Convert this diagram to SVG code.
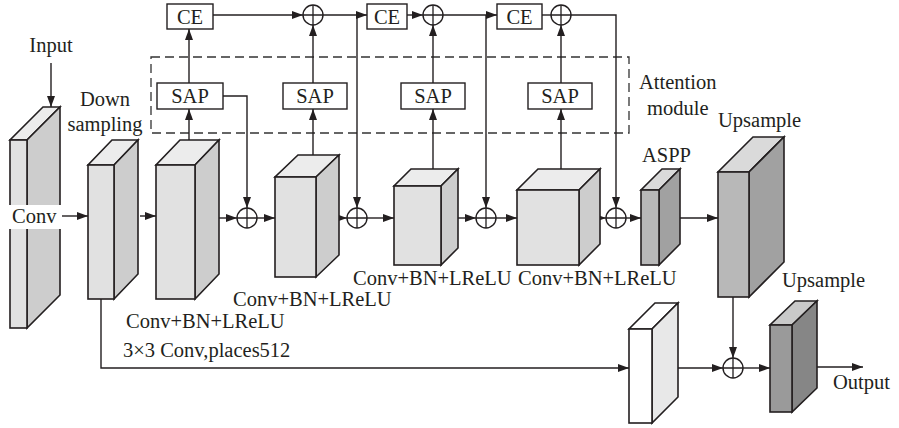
<svg xmlns="http://www.w3.org/2000/svg" width="899" height="428" viewBox="0 0 899 428">
  <defs>
    <marker id="arr" markerUnits="userSpaceOnUse" markerWidth="12" markerHeight="10" refX="11" refY="4" orient="auto">
      <path d="M0,0 L11,4 L0,8 Z" fill="#231f20"/>
    </marker>
    <g id="plus">
      <circle cx="0" cy="0" r="10" fill="#fff" stroke="#231f20" stroke-width="1.4"/>
      <path d="M-10,0 H10 M0,-10 V10" stroke="#231f20" stroke-width="1.3"/>
    </g>
  </defs>
  <style>
    text { font-family: "Liberation Serif", "Times New Roman", serif; font-size: 20.5px; fill: #231f20; }
    .edge { fill: none; stroke: #231f20; stroke-width: 1.4; }
    .box path, .box rect { stroke: #231f20; stroke-width: 1.6; stroke-linejoin: miter; }
    .box rect.knock { fill: #fff; stroke: none; }
    .lbl { fill: #fff; stroke: #231f20; stroke-width: 1.4; }
    .dash { fill: none; stroke: #333; stroke-width: 1.3; stroke-dasharray: 9 5; }
    .f1 { fill: #e1e1e1; } .t1 { fill: #ececec; } .s1 { fill: #cdcdcd; }
    .f2 { fill: #b8b8b8; } .t2 { fill: #dadada; } .s2 { fill: #a1a1a1; }
    .f3 { fill: #9a9a9a; } .t3 { fill: #c9c9c9; } .s3 { fill: #868686; }
    .f4 { fill: #ffffff; } .t4 { fill: #ffffff; } .s4 { fill: #e8e8e8; }
  </style>

  <rect width="899" height="428" fill="#fff"/>

  <!-- attention module frame -->
  <rect class="dash" x="151" y="57" width="478" height="76"/>

  <!-- connectors -->
  <g id="connectors">
    <path class="edge" d="M51,63 V107" marker-end="url(#arr)"/>
    <path class="edge" d="M62,216 H88" marker-end="url(#arr)"/>
    <path class="edge" d="M140,216 H156" marker-end="url(#arr)"/>
    <path class="edge" d="M219,218 H237" marker-end="url(#arr)"/>
    <path class="edge" d="M257,218 H275" marker-end="url(#arr)"/>
    <path class="edge" d="M325,218 H347" marker-end="url(#arr)"/>
    <path class="edge" d="M367,218 H394" marker-end="url(#arr)"/>
    <path class="edge" d="M451,218 H476" marker-end="url(#arr)"/>
    <path class="edge" d="M496,218 H517" marker-end="url(#arr)"/>
    <path class="edge" d="M591,218 H606" marker-end="url(#arr)"/>
    <path class="edge" d="M626,218 H641" marker-end="url(#arr)"/>
    <path class="edge" d="M675,218 H718" marker-end="url(#arr)"/>
    <path class="edge" d="M733,297 V358" marker-end="url(#arr)"/>
    <path class="edge" d="M101,299 V368 H629" marker-end="url(#arr)"/>
    <path class="edge" d="M678,368 H723" marker-end="url(#arr)"/>
    <path class="edge" d="M743,368 H770" marker-end="url(#arr)"/>
    <path class="edge" d="M815,367 H863" marker-end="url(#arr)"/>

    <!-- feature maps into SAP -->
    <path class="edge" d="M189,140 V109" marker-end="url(#arr)"/>
    <path class="edge" d="M313,155 V109" marker-end="url(#arr)"/>
    <path class="edge" d="M433,169 V109" marker-end="url(#arr)"/>
    <path class="edge" d="M561,169 V109" marker-end="url(#arr)"/>

    <!-- SAP outputs -->
    <path class="edge" d="M189,83 V29" marker-end="url(#arr)"/>
    <path class="edge" d="M313,83 V25" marker-end="url(#arr)"/>
    <path class="edge" d="M433,83 V25" marker-end="url(#arr)"/>
    <path class="edge" d="M561,83 V25" marker-end="url(#arr)"/>
    <path class="edge" d="M223,96 H247 V208" marker-end="url(#arr)"/>

    <!-- CE chain -->
    <path class="edge" d="M213,15 H303" marker-end="url(#arr)"/>
    <path class="edge" d="M323,15 H367" marker-end="url(#arr)"/>
    <path class="edge" d="M357,15 V208" marker-end="url(#arr)"/>
    <path class="edge" d="M407,15 H423" marker-end="url(#arr)"/>
    <path class="edge" d="M443,15 H497" marker-end="url(#arr)"/>
    <path class="edge" d="M486,15 V208" marker-end="url(#arr)"/>
    <path class="edge" d="M542,15 H551"/>
    <path class="edge" d="M571,15 H616 V208" marker-end="url(#arr)"/>
  </g>

  <!-- sum nodes -->
  <g id="sum1"><use href="#plus" x="247" y="218"/></g>
  <g id="sum2"><use href="#plus" x="357" y="218"/></g>
  <g id="sum3"><use href="#plus" x="486" y="218"/></g>
  <g id="sum4"><use href="#plus" x="616" y="218"/></g>
  <g id="sum5"><use href="#plus" x="733" y="368"/></g>
  <g id="top1"><use href="#plus" x="313" y="15"/></g>
  <g id="top2"><use href="#plus" x="433" y="15"/></g>
  <g id="top3"><use href="#plus" x="561" y="15"/></g>

  <!-- CE blocks -->
  <g id="ce1"><rect class="lbl" x="167" y="4" width="46" height="25"/><text x="190" y="24" text-anchor="middle">CE</text></g>
  <g id="ce2"><rect class="lbl" x="367" y="4" width="40" height="25"/><text x="387" y="24" text-anchor="middle">CE</text></g>
  <g id="ce3"><rect class="lbl" x="497" y="4" width="45" height="25"/><text x="519.5" y="24" text-anchor="middle">CE</text></g>

  <!-- SAP blocks -->
  <g id="sap1"><rect class="lbl" x="157" y="83" width="66" height="26"/><text x="190" y="103" text-anchor="middle">SAP</text></g>
  <g id="sap2"><rect class="lbl" x="283" y="83" width="64" height="26"/><text x="315" y="103" text-anchor="middle">SAP</text></g>
  <g id="sap3"><rect class="lbl" x="401" y="83" width="64" height="26"/><text x="433" y="103" text-anchor="middle">SAP</text></g>
  <g id="sap4"><rect class="lbl" x="528" y="83" width="64" height="26"/><text x="560" y="103" text-anchor="middle">SAP</text></g>

  <!-- input conv block -->
  <g id="conv-in" class="box">
    <path class="t1" d="M10,140 H27 L60,107 H43 Z"/>
    <path class="s1" d="M27,140 L60,107 V295 L27,328 Z"/>
    <rect class="f1" x="10" y="140" width="17" height="188"/>
    <rect class="knock" x="9" y="205" width="52" height="24"/>
    <text x="12" y="223">Conv</text>
  </g>

  <!-- down sampling -->
  <g id="down" class="box">
    <path class="t1" d="M88,165 H114 L138,140 H112 Z"/>
    <path class="s1" d="M114,165 L138,140 V274 L114,299 Z"/>
    <rect class="f1" x="88" y="165" width="26" height="134"/>
  </g>

  <g id="enc1" class="box">
    <path class="t1" d="M156,165 H195 L219,140 H180 Z"/>
    <path class="s1" d="M195,165 L219,140 V274 L195,299 Z"/>
    <rect class="f1" x="156" y="165" width="39" height="134"/>
  </g>

  <g id="enc2" class="box">
    <path class="t1" d="M275,177 H316 L339,155 H298 Z"/>
    <path class="s1" d="M316,177 L339,155 V255 L316,277 Z"/>
    <rect class="f1" x="275" y="177" width="41" height="100"/>
  </g>

  <g id="enc3" class="box">
    <path class="t1" d="M394,186 H441 L458,169 H411 Z"/>
    <path class="s1" d="M441,186 L458,169 V248 L441,265 Z"/>
    <rect class="f1" x="394" y="186" width="47" height="79"/>
  </g>

  <g id="enc4" class="box">
    <path class="t1" d="M517,190 H579 L600,169 H538 Z"/>
    <path class="s1" d="M579,190 L600,169 V244 L579,265 Z"/>
    <rect class="f1" x="517" y="190" width="62" height="75"/>
  </g>

  <g id="aspp" class="box">
    <path class="t2" d="M641,190 H659 L680,169 H662 Z"/>
    <path class="s2" d="M659,190 L680,169 V244 L659,265 Z"/>
    <rect class="f2" x="641" y="190" width="18" height="75"/>
  </g>

  <g id="upsample1" class="box">
    <path class="t2" d="M718,172 H749 L784,137 H753 Z"/>
    <path class="s2" d="M749,172 L784,137 V262 L749,297 Z"/>
    <rect class="f2" x="718" y="172" width="31" height="125"/>
  </g>

  <g id="skip-conv" class="box">
    <path class="t4" d="M629,329 H652 L678,303 H655 Z"/>
    <path class="s4" d="M652,329 L678,303 V397 L652,423 Z"/>
    <rect class="f4" x="629" y="329" width="23" height="94"/>
  </g>

  <g id="upsample2" class="box">
    <path class="t3" d="M770,325 H792 L817,301 H795 Z"/>
    <path class="s3" d="M792,325 L817,301 V388 L792,412 Z"/>
    <rect class="f3" x="770" y="325" width="22" height="87"/>
  </g>

  <!-- labels -->
  <g id="labels">
    <text x="51" y="52" text-anchor="middle">Input</text>
    <text x="105" y="106" text-anchor="middle">Down</text>
    <text x="105" y="131" text-anchor="middle">sampling</text>
    <text x="126" y="328">Conv+BN+LReLU</text>
    <text x="233" y="306">Conv+BN+LReLU</text>
    <text x="353" y="285">Conv+BN+LReLU</text>
    <text x="518" y="285">Conv+BN+LReLU</text>
    <text x="123" y="357">3×3 Conv,places512</text>
    <text x="642" y="162">ASPP</text>
    <text x="718" y="127">Upsample</text>
    <text x="782" y="287">Upsample</text>
    <text x="639" y="89">Attention</text>
    <text x="647" y="115">module</text>
    <text x="833" y="389">Output</text>
  </g>
</svg>
